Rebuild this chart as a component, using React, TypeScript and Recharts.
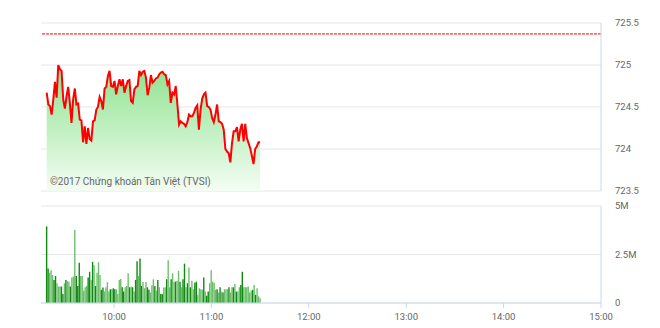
import { Area, Bar, BarChart, CartesianGrid, Cell, ComposedChart, Line, ReferenceLine, XAxis, YAxis } from "recharts";

// VN-Index intraday, morning session
const priceValues = [
  724.67, 724.53, 724.51, 724.41, 724.59, 724.8, 724.61, 725.0, 724.95, 724.93,
  724.59, 724.48, 724.63, 724.74, 724.55, 724.31, 724.59, 724.72, 724.53, 724.54,
  724.35, 724.34, 724.08, 724.27, 724.06, 724.25, 724.12, 724.1, 724.33, 724.34,
  724.47, 724.5, 724.62, 724.57, 724.47, 724.72, 724.74, 724.87, 724.93, 724.75,
  724.74, 724.81, 724.65, 724.75, 724.83, 724.75, 724.83, 724.67, 724.75, 724.81,
  724.82, 724.57, 724.55, 724.71, 724.74, 724.75, 724.93, 724.88, 724.92, 724.93,
  724.85, 724.64, 724.73, 724.88, 724.79, 724.81, 724.84, 724.85, 724.89, 724.91,
  724.92, 724.89, 724.88, 724.77, 724.81, 724.55, 724.67, 724.65, 724.75, 724.53,
  724.29, 724.33, 724.31, 724.3, 724.27, 724.32, 724.41, 724.39, 724.39, 724.43,
  724.49, 724.52, 724.23, 724.47, 724.6, 724.65, 724.67, 724.51, 724.5, 724.47,
  724.37, 724.32, 724.41, 724.53, 724.33, 724.32, 724.3, 724.23, 724.0, 723.97,
  723.95, 723.84, 724.07, 724.21, 724.21, 724.26, 724.09, 724.23, 724.3, 724.09,
  724.3, 724.13, 724.07, 724.01, 723.92, 723.82, 724.0, 724.03, 724.08, 724.08,
];

// volume in millions of shares
const volumeValues = [
  3.95, 1.78, 1.56, 1.69, 1.44, 1.19, 1.39, 1.02, 0.85, 0.85,
  0.85, 0.47, 1.02, 1.19, 1.14, 1.1, 0.85, 1.32, 1.36, 3.76,
  1.39, 0.88, 2.08, 1.39, 1.39, 0.64, 0.81, 0.88, 1.32, 1.61,
  1.19, 2.12, 1.95, 0.88, 1.56, 2.1, 1.44, 0.68, 0.8, 0.59,
  0.81, 1.08, 0.59, 0.71, 0.71, 0.76, 0.71, 0.71, 0.46, 1.19,
  1.24, 0.81, 0.59, 0.81, 0.88, 1.53, 0.81, 0.85, 0.81, 0.59,
  1.19, 2.15, 1.39, 2.29, 0.88, 1.08, 0.76, 1.08, 0.81, 0.68,
  0.54, 0.92, 1.22, 0.88, 0.64, 1.19, 0.81, 0.47, 0.47, 0.8,
  0.81, 1.22, 2.2, 0.81, 1.22, 1.53, 1.1, 1.1, 1.15, 1.66,
  1.1, 0.81, 1.22, 2.03, 0.81, 1.02, 1.83, 0.81, 1.15, 0.71,
  1.05, 1.1, 0.42, 0.76, 0.71, 0.68, 1.32, 0.59, 0.37, 0.59,
  1.02, 1.69, 1.1, 1.05, 0.68, 0.71, 0.54, 0.81, 0.59, 0.54,
  0.71, 0.71, 0.71, 0.81, 0.54, 0.81, 0.81, 0.98, 0.59, 0.59,
  0.81, 0.93, 1.61, 0.81, 0.81, 0.81, 0.85, 0.54, 0.64, 0.68,
  0.93, 0.42, 0.76, 0.34, 0.24,
];

// d = dark bar, l = light bar
const volumeShades =
  "ddlllddlll" + "ddldlldlll" + "dddllllldd" + "ldldlllddl" + "llldlddlll" +
  "lddllldldl" + "ddlddllldd" + "llldldlddl" + "ldlldlldll" + "dlddldldll" +
  "ddlllldldd" + "llllldldld" + "llldlldldl" + "lddlllllld" + "ldlll";

const priceTicks = [723.5, 724, 724.5, 725, 725.5];
const volumeTicks = [0, 2.5, 5];
const timeTicks = ["10:00", "11:00", "12:00", "13:00", "14:00", "15:00"];
const referencePrice = 725.37;
const sessionOpen = "09:15";
const sessionClose = "15:00";
const firstTrade = "09:18:30";
const lastTrade = "11:30";

function toMinutes(s: string) {
  const [h, m, sec] = s.split(":").map(Number);
  return h * 60 + m + (sec || 0) / 60;
}

function fmtTime(v: number) {
  const h = Math.floor(v / 60);
  const m = Math.round(v - h * 60);
  return `${h < 10 ? "0" : ""}${h}:${m < 10 ? "0" : ""}${m}`;
}

// samples are evenly spaced between the first and the last trade
function stamp(i: number, n: number) {
  const a = toMinutes(firstTrade);
  const b = toMinutes(lastTrade);
  return a + (i * (b - a)) / (n - 1);
}

const priceData = priceValues.map((price, i) => ({ t: stamp(i, priceValues.length), price }));
const volumeData = volumeValues.map((vol, i) => ({ t: stamp(i, volumeValues.length), vol, shade: volumeShades[i] }));

const domain: [number, number] = [toMinutes(sessionOpen), toMinutes(sessionClose)];
const tickMinutes = timeTicks.map(toMinutes);
const font = "Roboto, sans-serif";
const tickStyle = { fill: "#666666", fontSize: 9.5, fontFamily: font };

export default function App() {
  return (
    <div style={{ position: "absolute", left: 0, top: 0, width: 660, height: 328, background: "#fff", fontFamily: font }}>
      <div style={{ position: "absolute", left: 0, top: 0 }}>
        <ComposedChart width={660} height={200} data={priceData} margin={{ top: 23, right: 0, bottom: 9, left: 41 }}>
          <defs>
            <linearGradient id="priceFill" x1="0" y1="0" x2="0" y2="1">
              <stop offset="0%" stopColor="#8de28d" />
              <stop offset="100%" stopColor="#f4fdf4" />
            </linearGradient>
          </defs>
          <CartesianGrid vertical={false} stroke="#e6e6e6" />
          <XAxis dataKey="t" type="number" domain={domain} hide />
          <YAxis
            orientation="right"
            domain={[723.5, 725.5]}
            ticks={priceTicks}
            interval={0}
            width={59}
            axisLine={{ stroke: "#ccd6eb" }}
            tickLine={false}
            tickMargin={8}
            tick={tickStyle}
          />
          <ReferenceLine y={referencePrice} stroke="#ff0000" strokeDasharray="3 1" />
          <Area type="linear" dataKey="price" stroke="none" fill="url(#priceFill)" fillOpacity={1} isAnimationActive={false} />
          <Line type="linear" dataKey="price" stroke="#ff0000" strokeWidth={2} dot={false} isAnimationActive={false} />
        </ComposedChart>
      </div>
      <div style={{ position: "absolute", left: 50, top: 176, fontSize: 10, color: "#666666", whiteSpace: "nowrap" }}>
        ©2017 Chứng khoán Tân Việt (TVSI)
      </div>
      <div style={{ position: "absolute", left: 0, top: 200 }}>
        <BarChart width={660} height={128} data={volumeData} margin={{ top: 6, right: 0, bottom: 0, left: 41 }}>
          <CartesianGrid vertical={false} stroke="#e6e6e6" />
          <XAxis
            dataKey="t"
            type="number"
            domain={domain}
            ticks={tickMinutes}
            interval={0}
            tickFormatter={fmtTime}
            height={25}
            axisLine={{ stroke: "#ccd6eb" }}
            tickLine={{ stroke: "#ccd6eb" }}
            tickSize={5}
            tickMargin={5}
            tick={tickStyle}
          />
          <YAxis
            orientation="right"
            domain={[0, 5]}
            ticks={volumeTicks}
            interval={0}
            width={59}
            axisLine={{ stroke: "#ccd6eb" }}
            tickLine={false}
            tickMargin={8}
            tick={tickStyle}
            tickFormatter={(v: number) => (v === 0 ? "0" : `${v}M`)}
          />
          <Bar dataKey="vol" barSize={1.4} isAnimationActive={false}>
            {volumeData.map((d, i) => (
              <Cell key={i} fill={d.shade === "d" ? "#118a11" : "#6cc06c"} />
            ))}
          </Bar>
        </BarChart>
      </div>
    </div>
  );
}
